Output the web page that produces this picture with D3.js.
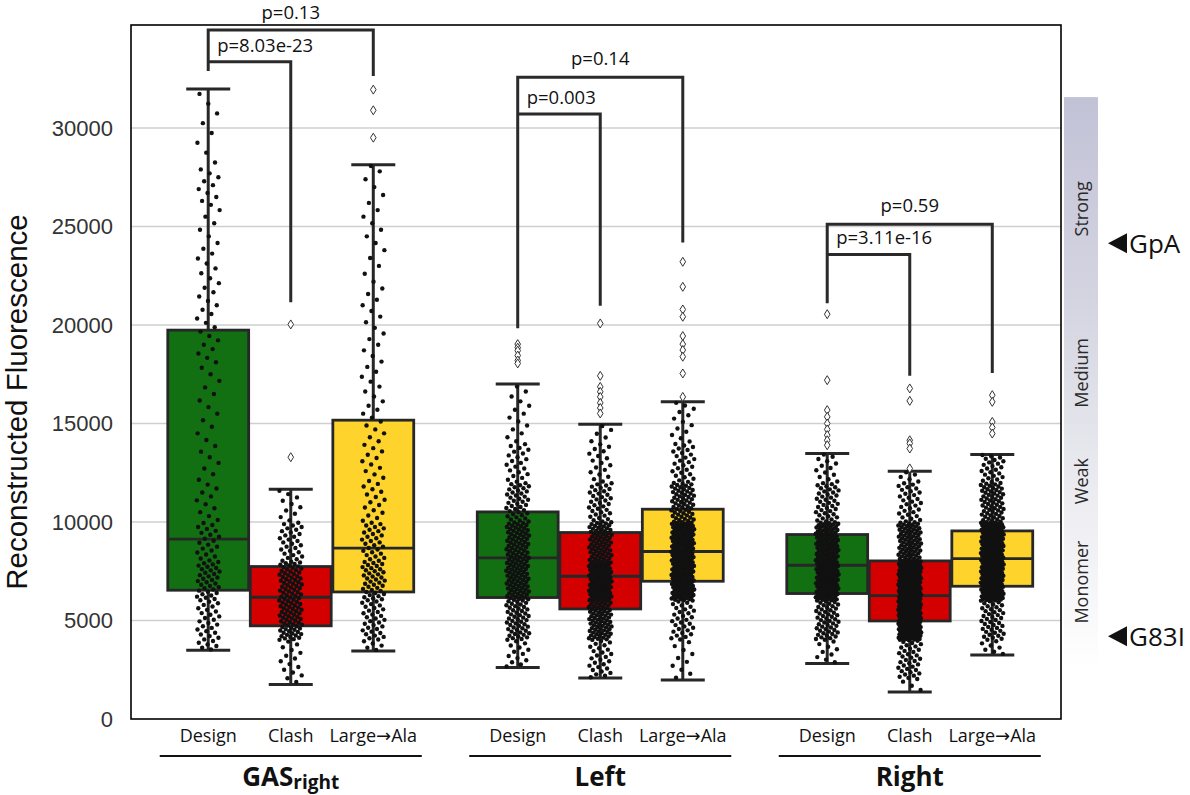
<!DOCTYPE html>
<html><head><meta charset="utf-8">
<script src="https://cdn.jsdelivr.net/npm/d3@7"></script>
<style>body{margin:0;background:#fff}svg{display:block}</style>
</head><body>
<svg id="c" width="1190" height="795"></svg>
<script>
// ---------- data ----------
const groups = ["GAS_right", "Left", "Right"];
const hues = ["Design", "Clash", "Large\u2192Ala"];
const hueColors = ["#127012", "#d40000", "#fed42c"];
const yTicks = [0, 5000, 10000, 15000, 20000, 25000, 30000];

// box statistics per group, per hue
const whiskerLow  = [[3490, 1750, 3454], [2611, 2082, 1981], [2814, 1371, 3250]];
const q1          = [[6537, 4730, 6450], [6166, 5587, 6993], [6369, 4977, 6739]];
const median      = [[9127, 6180, 8670], [8177, 7247, 8502], [7806, 6267, 8146]];
const q3          = [[19741, 7740, 15170], [10513, 9467, 10650], [9365, 8025, 9548]];
const whiskerHigh = [[31980, 11666, 28140], [17000, 14967, 16100], [13480, 12580, 13430]];

const outliers = [
  [[], [20030, 13290], [31950, 30900, 29510]],
  [[19030, 18850, 18700, 18450, 18200, 18050],
   [20080, 17420, 16860, 16610, 16350, 16050, 15790, 15510],
   [23210, 21940, 20790, 20420, 19440, 19030, 18730, 18390, 17540, 16350]],
  [[20550, 17200, 15680, 15340, 15000, 14700, 14410, 14150, 13900],
   [16780, 16150, 14150, 13990, 13730, 12720],
   [16440, 16100, 15080, 14800, 14490]]
];

// estimated count of individual measurements per 2000-unit bin (0-2k, 2-4k, ... 32-34k)
const dotBinWidth = 2000;
const dotCounts = [
  [[0, 6, 24, 33, 20, 10, 7, 6, 6, 9, 9, 8, 6, 10, 4, 4, 0],
   [1, 14, 55, 52, 28, 10, 0, 0, 0, 0, 0, 0, 0, 0, 0, 0, 0],
   [0, 5, 30, 38, 28, 15, 12, 10, 8, 7, 7, 5, 6, 5, 1, 0, 0]],
  [[0, 13, 48, 65, 60, 38, 21, 10, 4, 0, 0, 0, 0, 0, 0, 0, 0],
   [0, 26, 70, 88, 66, 34, 17, 5, 0, 0, 0, 0, 0, 0, 0, 0, 0],
   [0, 10, 30, 92, 96, 56, 26, 12, 1, 0, 0, 0, 0, 0, 0, 0, 0]],
  [[0, 9, 48, 95, 82, 38, 13, 0, 0, 0, 0, 0, 0, 0, 0, 0, 0],
   [3, 35, 155, 130, 74, 30, 5, 0, 0, 0, 0, 0, 0, 0, 0, 0, 0],
   [0, 7, 40, 120, 116, 56, 23, 0, 0, 0, 0, 0, 0, 0, 0, 0, 0]]
];

// significance brackets (Design vs Large→Ala outer, Design vs Clash inner)
const bracketLabels = [["p=0.13", "p=8.03e-23"], ["p=0.14", "p=0.003"], ["p=0.59", "p=3.11e-16"]];
const bracketOuterTop = [34980, 32580, 25120];
const bracketInnerTop = [33370, 30710, 23580];
const bracketLegEnd = [[32900, 21160, 32640], [19830, 20980, 24190], [21100, 17420, 17570]];

// strength scale on the right
const strengthLabels = ["Strong", "Medium", "Weak", "Monomer"];
const strengthValues = [25900, 17570, 12080, 6950];
const gradientTop = 31570, gradientBottom = 2500;
const refLabels = ["GpA", "G83I"];
const refValues = [24150, 4200];

// ---------- drawing ----------
const svg = d3.select("#c");
const L = 131, R = 1061, T = 25, B = 719;
const FONT = "Open Sans, DejaVu Sans, sans-serif";
const y = d3.scaleLinear().domain([0, 35230]).range([B, T]);
const x = d3.scaleBand().domain(groups).range([136, 1064.5]).paddingInner(0).paddingOuter(0);
const xh = d3.scaleBand().domain(hues).range([0, x.bandwidth() * 0.8]);
const hx = (g, h) => x(groups[g]) + x.bandwidth() * 0.1 + xh(hues[h]) + xh.bandwidth() / 2;
const bw = xh.bandwidth() * 0.98;
const edge = "#272727";

// gridlines
svg.append("g").selectAll("line").data(yTicks.filter(d => d > 0)).join("line")
  .attr("x1", L).attr("x2", R).attr("y1", d => y(d)).attr("y2", d => y(d))
  .attr("stroke", "#cfcfcf").attr("stroke-width", 1.5);

// y axis labels
svg.append("g").selectAll("text").data(yTicks).join("text")
  .attr("x", 113).attr("y", d => y(d)).attr("dy", "0.36em")
  .attr("text-anchor", "end").attr("font-family", "Liberation Sans, Arial, sans-serif")
  .attr("font-size", 22).attr("fill", "#333").text(d => d);

svg.append("text").attr("transform", `translate(27,${(y(0) + y(35230)) / 2 + 30}) rotate(-90)`)
  .attr("text-anchor", "middle").attr("font-family", "Liberation Sans, Arial, sans-serif")
  .attr("font-size", 29.5).attr("fill", "#111").text("Reconstructed Fluorescence");

// boxes
const cells = [];
groups.forEach((g, gi) => hues.forEach((h, hi) => cells.push({ gi, hi })));
const gBox = svg.append("g");
cells.forEach(c => {
  const cx = hx(c.gi, c.hi);
  const lo = whiskerLow[c.gi][c.hi], hi = whiskerHigh[c.gi][c.hi];
  const a = q1[c.gi][c.hi], b = q3[c.gi][c.hi], m = median[c.gi][c.hi];
  gBox.append("line").attr("x1", cx).attr("x2", cx).attr("y1", y(b)).attr("y2", y(hi))
    .attr("stroke", edge).attr("stroke-width", 3);
  gBox.append("line").attr("x1", cx).attr("x2", cx).attr("y1", y(a)).attr("y2", y(lo))
    .attr("stroke", edge).attr("stroke-width", 3);
  [lo, hi].forEach(v => gBox.append("line").attr("x1", cx - 22).attr("x2", cx + 22)
    .attr("y1", y(v)).attr("y2", y(v)).attr("stroke", edge).attr("stroke-width", 3));
  gBox.append("rect").attr("x", cx - bw / 2).attr("width", bw).attr("y", y(b)).attr("height", y(a) - y(b))
    .attr("fill", hueColors[c.hi]).attr("stroke", edge).attr("stroke-width", 2.8);
  gBox.append("line").attr("x1", cx - bw / 2).attr("x2", cx + bw / 2).attr("y1", y(m)).attr("y2", y(m))
    .attr("stroke", edge).attr("stroke-width", 2.8);
  outliers[c.gi][c.hi].forEach(v => gBox.append("path")
    .attr("d", `M${cx},${y(v) - 4.5}L${cx + 2.8},${y(v)}L${cx},${y(v) + 4.5}L${cx - 2.8},${y(v)}Z`)
    .attr("fill", "#fff").attr("stroke", "#333").attr("stroke-width", 1));
});

// individual measurements (jittered strip)
const gDots = svg.append("g");
let n = 0;
cells.forEach(c => {
  const cx = hx(c.gi, c.hi);
  const lo = whiskerLow[c.gi][c.hi], hi = whiskerHigh[c.gi][c.hi];
  const vals = [];
  dotCounts[c.gi][c.hi].forEach((cnt, i) => {
    const a = Math.max(i * dotBinWidth, lo), b = Math.min((i + 1) * dotBinWidth, hi);
    if (cnt <= 0 || b <= a) return;
    for (let k = 0; k < cnt; k++) vals.push(a + (k + 0.5) / cnt * (b - a));
  });
  gDots.selectAll(null).data(vals).join("circle")
    .attr("cx", () => { n++; return cx + (((n * 0.6180339887) % 1) - 0.5) * 23; })
    .attr("cy", d => y(d)).attr("r", 2.2).attr("fill", "#111");
});

// frame
svg.append("rect").attr("x", L).attr("y", T).attr("width", R - L).attr("height", B - T)
  .attr("fill", "none").attr("stroke", "#000").attr("stroke-width", 1.6);

// brackets
const gBr = svg.append("g").attr("fill", "none").attr("stroke", "#2a2a2a").attr("stroke-width", 3);
groups.forEach((g, gi) => {
  const x0 = hx(gi, 0), x1 = hx(gi, 1), x2 = hx(gi, 2);
  const yo = y(bracketOuterTop[gi]), yi = y(bracketInnerTop[gi]);
  gBr.append("path").attr("d", `M${x0},${y(bracketLegEnd[gi][0])}V${yo}H${x2}V${y(bracketLegEnd[gi][2])}`);
  gBr.append("path").attr("d", `M${x0},${yi}H${x1}V${y(bracketLegEnd[gi][1])}`);
  svg.append("text").attr("x", (x0 + x2) / 2).attr("y", Math.max(yo - 12, 19)).attr("text-anchor", "middle")
    .attr("font-family", FONT).attr("font-size", 18.5).attr("fill", "#111")
    .text(bracketLabels[gi][0]);
  svg.append("text").attr("x", x0 + 9).attr("y", yi - 10)
    .attr("font-family", FONT).attr("font-size", 18.5).attr("fill", "#111")
    .text(bracketLabels[gi][1]);
});

// x labels
const gX = svg.append("g").attr("font-family", FONT);
cells.forEach(c => {
  const t = gX.append("text").attr("x", hx(c.gi, c.hi)).attr("y", 742)
    .attr("text-anchor", "middle").attr("font-size", 18).attr("fill", "#111");
  const parts = hues[c.hi].split("\u2192");
  t.append("tspan").text(parts[0]);
  if (parts.length > 1) {
    t.append("tspan").attr("font-family", "DejaVu Sans, sans-serif").text("\u2192");
    t.append("tspan").text(parts[1]);
  }
});
groups.forEach((g, gi) => {
  const cx = x(g) + x.bandwidth() / 2;
  gX.append("line").attr("x1", cx - 131).attr("x2", cx + 131).attr("y1", 756).attr("y2", 756)
    .attr("stroke", "#111").attr("stroke-width", 2);
  const t = gX.append("text").attr("x", cx).attr("y", 786).attr("text-anchor", "middle")
    .attr("font-size", 26).attr("font-weight", "bold").attr("fill", "#111");
  if (g === "GAS_right") {
    t.append("tspan").text("GAS");
    t.append("tspan").attr("font-size", 19).attr("dy", 2.5).text("right");
  } else t.text(g);
});

// strength gradient
const defs = svg.append("defs");
const lg = defs.append("linearGradient").attr("id", "sg").attr("x1", 0).attr("x2", 0).attr("y1", 0).attr("y2", 1);
[["0%", "#c2c2d7"], ["35%", "#d4d4e1"], ["70%", "#ececf1"], ["100%", "#ffffff"]]
  .forEach(s => lg.append("stop").attr("offset", s[0]).attr("stop-color", s[1]));
svg.append("rect").attr("x", 1064).attr("width", 34).attr("y", y(gradientTop))
  .attr("height", y(gradientBottom) - y(gradientTop)).attr("fill", "url(#sg)");
strengthLabels.forEach((s, i) => svg.append("text")
  .attr("transform", `translate(1088,${y(strengthValues[i])}) rotate(-90)`)
  .attr("text-anchor", "middle").attr("font-family", FONT)
  .attr("font-size", 18).attr("fill", "#2a2a2a").text(s));
refLabels.forEach((s, i) => {
  const yy = y(refValues[i]);
  svg.append("path").attr("d", `M1108,${yy}L1127,${yy - 10}L1127,${yy + 10}Z`).attr("fill", "#111");
  svg.append("text").attr("x", 1129).attr("y", yy).attr("dy", "0.36em")
    .attr("font-family", FONT).attr("font-size", 26).attr("fill", "#111").text(s);
});
</script>
</body></html>
